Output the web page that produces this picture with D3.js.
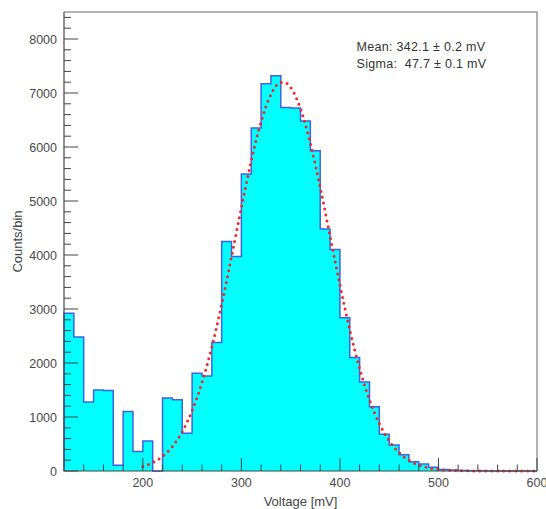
<!DOCTYPE html>
<html>
<head>
<meta charset="utf-8">
<script src="https://cdnjs.cloudflare.com/ajax/libs/d3/7.8.5/d3.min.js"></script>
<style>
	body { margin: 0; background: #fff; }
	text { font-family: "Liberation Sans", Arial, sans-serif; }
</style>
</head>
<body>
<div id="chart"></div>
<script>
//histogram bins: lower edge of first bin, width, counts
var binStart = 120;
var binWidth = 10;
var counts = [2920, 2480, 1280, 1500, 1490, 105, 1100, 360, 555, 0,
	1350, 1320, 700, 1810, 1760, 2380, 4250, 3970, 5500, 6350,
	7170, 7320, 6730, 6720, 6480, 5930, 4480, 4100, 2840, 2100,
	1650, 1190, 680, 480, 300, 170, 130, 70, 30, 18,
	10, 6, 4, 2, 2, 1, 1, 0];
//fit curve
var fitX = [200, 210, 220, 230, 240, 250, 260, 270, 280, 290, 300, 310, 320, 330, 340, 345,
	350, 360, 370, 380, 390, 400, 410, 420, 430, 440, 450, 460, 470, 480, 490, 500,
	510, 520, 530, 540, 560, 580, 600];
var fitY = [85, 156, 272, 455, 729, 1116, 1637, 2296, 3085, 3966, 4877, 5741, 6467, 6972, 7193, 7185,
	7102, 6711, 6068, 5251, 4349, 3447, 2614, 1898, 1318, 876, 557, 339, 198, 110, 59, 30,
	15, 7, 3, 1, 0, 0, 0];
var xMajor = [200, 300, 400, 500, 600];
var yMajor = [0, 1000, 2000, 3000, 4000, 5000, 6000, 7000, 8000];
var statLines = ["Mean: 342.1 \u00b1 0.2 mV", "Sigma:  47.7 \u00b1 0.1 mV"];

(function () {
	'use strict';
	var W = 546, H = 509;
	var margin = {top: 12, right: 9, bottom: 38, left: 64};
	var width = W - margin.left - margin.right;
	var height = H - margin.top - margin.bottom;

	var x = d3.scaleLinear().domain([120, 600]).range([0, width]);
	var y = d3.scaleLinear().domain([0, 8500]).range([height, 0]);

	var svg = d3.select("#chart").append("svg")
		.attr("width", W)
		.attr("height", H)
		.append("g")
		.attr("transform", "translate(" + margin.left + "," + margin.top + ")");

	//histogram as a step path
	var pts = [[binStart, 0]];
	counts.forEach(function(c, i) {
		var x0 = binStart + i * binWidth;
		pts.push([x0, c]);
		pts.push([x0 + binWidth, c]);
	});
	pts.push([binStart + counts.length * binWidth, 0]);
	var line = d3.line()
		.x(function(d) { return x(d[0]); })
		.y(function(d) { return y(d[1]); });
	svg.append("path")
		.attr("d", line(pts))
		.attr("fill", "#00ffff")
		.attr("stroke", "#3f63e0")
		.attr("stroke-width", 1.5)
		.attr("stroke-linejoin", "miter");

	//fit
	var fit = d3.line()
		.curve(d3.curveMonotoneX)
		.x(function(d) { return x(d); })
		.y(function(d, i) { return y(fitY[i]); });
	svg.append("path")
		.attr("d", fit(fitX))
		.attr("fill", "none")
		.attr("stroke", "#f02828")
		.attr("stroke-width", 3)
		.attr("stroke-linecap", "round")
		.attr("stroke-dasharray", "0 6");

	//frame
	svg.append("path")
		.attr("d", "M0,0H" + width + "V" + height)
		.attr("fill", "none")
		.attr("stroke", "#9a9a9a")
		.attr("stroke-width", 1.5);
	svg.append("path")
		.attr("d", "M0,0V" + height + "H" + width)
		.attr("fill", "none")
		.attr("stroke", "#444")
		.attr("stroke-width", 1.2);

	//ticks inside the frame
	var xt = d3.range(140, 601, 20);
	svg.selectAll(".xtick").data(xt).enter().append("line")
		.attr("x1", function(d) { return x(d); })
		.attr("x2", function(d) { return x(d); })
		.attr("y1", height)
		.attr("y2", function(d) { return height - (xMajor.indexOf(d) >= 0 ? 13 : 6.5); })
		.attr("stroke", "#444")
		.attr("stroke-width", 1);
	var yt = d3.range(0, 8401, 200);
	svg.selectAll(".ytick").data(yt).enter().append("line")
		.attr("x1", 0)
		.attr("x2", function(d) { return yMajor.indexOf(d) >= 0 ? 14 : 7; })
		.attr("y1", function(d) { return y(d); })
		.attr("y2", function(d) { return y(d); })
		.attr("stroke", "#444")
		.attr("stroke-width", 1);

	//tick labels
	svg.selectAll(".xlab").data(xMajor).enter().append("text")
		.attr("x", function(d) { return x(d); })
		.attr("y", height + 16)
		.attr("text-anchor", "middle")
		.attr("font-size", "12.5px")
		.attr("fill", "#4a4a4a")
		.text(function(d) { return d; });
	svg.selectAll(".ylab").data(yMajor).enter().append("text")
		.attr("x", -7)
		.attr("y", function(d) { return y(d) + 4.5; })
		.attr("text-anchor", "end")
		.attr("font-size", "12.5px")
		.attr("fill", "#4a4a4a")
		.text(function(d) { return d; });

	//axis titles
	svg.append("text")
		.attr("x", width / 2)
		.attr("y", height + 35)
		.attr("text-anchor", "middle")
		.attr("font-size", "13px")
		.attr("fill", "#444")
		.text("Voltage [mV]");
	svg.append("text")
		.attr("transform", "translate(" + (-42) + "," + (height / 2) + ") rotate(-90)")
		.attr("text-anchor", "middle")
		.attr("font-size", "13px")
		.attr("fill", "#444")
		.text("Counts/bin");

	//fit results
	svg.selectAll(".stat").data(statLines).enter().append("text")
		.attr("x", 292.5)
		.attr("y", function(d, i) { return 39 + i * 16.5; })
		.attr("font-size", "12.5px")
		.attr("letter-spacing", "0.3px")
		.attr("fill", "#333")
		.style("white-space", "pre")
		.text(function(d) { return d; });
}());
</script>
</body>
</html>
